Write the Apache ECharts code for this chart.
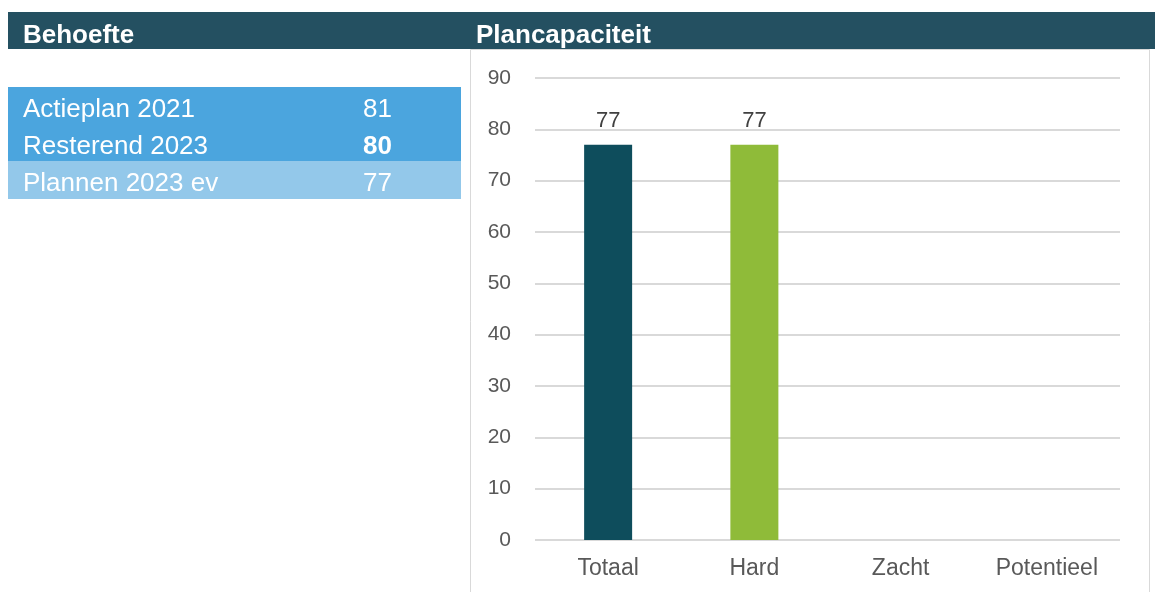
<!DOCTYPE html>
<html>
<head>
<meta charset="utf-8">
<script src="https://cdn.jsdelivr.net/npm/echarts@6/dist/echarts.min.js"></script>
<style>
  html, body { margin: 0; padding: 0; background: #ffffff; }
  #chart { width: 1155px; height: 592px; }
</style>
</head>
<body>
<div id="chart"></div>
<script>
// Plan capacity per category
const categories = ['Totaal', 'Hard', 'Zacht', 'Potentieel'];
const capacityValues = [77, 77, null, null];
const barColors = ['#0E4D5C', '#8FBB39', '#0E4D5C', '#8FBB39'];
const yTicks = [0, 10, 20, 30, 40, 50, 60, 70, 80, 90];

// Demand table (left panel)
const demandLabels = ['Actieplan 2021', 'Resterend 2023', 'Plannen 2023 ev'];
const demandValues = [81, 80, 77];
const demandBold = [false, true, false];
const demandFill = ['#4BA5DE', '#4BA5DE', '#93C8EA'];

const FONT = '"Liberation Sans", Arial, sans-serif';

const chart = echarts.init(document.getElementById('chart'), null, { renderer: 'canvas' });

const graphics = [
  // header band
  { type: 'rect', z: 0, shape: { x: 8, y: 12, width: 1147, height: 37 }, style: { fill: '#245061' } },
  { type: 'text', z: 2, style: { x: 23, y: 36, text: 'Behoefte', fill: '#ffffff', font: 'bold 26px ' + FONT, textVerticalAlign: 'middle' } },
  { type: 'text', z: 2, style: { x: 476, y: 36, text: 'Plancapaciteit', fill: '#ffffff', font: 'bold 26px ' + FONT, textVerticalAlign: 'middle' } },
  // chart frame
  { type: 'rect', z: 0, shape: { x: 470.5, y: 49.5, width: 679, height: 560 }, style: { fill: 'none', stroke: '#D9D9D9', lineWidth: 1 } }
];

demandLabels.forEach((label, i) => {
  const top = 87 + i * 37;
  graphics.push({ type: 'rect', z: 0, shape: { x: 8, y: top, width: 453, height: 38 }, style: { fill: demandFill[i] } });
  graphics.push({ type: 'text', z: 2, style: { x: 23, y: top + 23, text: label, fill: '#ffffff', font: '26px ' + FONT, textVerticalAlign: 'middle' } });
  graphics.push({ type: 'text', z: 2, style: { x: 363, y: top + 23, text: String(demandValues[i]), fill: '#ffffff', font: (demandBold[i] ? 'bold ' : '') + '26px ' + FONT, textVerticalAlign: 'middle' } });
});

chart.setOption({
  animation: false,
  backgroundColor: '#ffffff',
  grid: { left: 535, right: 35, top: 78, bottom: 52, containLabel: false },
  xAxis: {
    type: 'category',
    data: categories,
    axisLine: { show: false },
    axisTick: { show: false },
    axisLabel: { color: '#595959', fontFamily: FONT, fontSize: 23, margin: 17 }
  },
  yAxis: {
    type: 'value',
    min: yTicks[0],
    max: yTicks[yTicks.length - 1],
    interval: yTicks[1] - yTicks[0],
    axisLine: { show: false },
    axisTick: { show: false },
    axisLabel: { color: '#595959', fontFamily: FONT, fontSize: 21, margin: 24 },
    splitLine: { lineStyle: { color: '#D9D9D9', width: 2 } }
  },
  series: [{
    type: 'bar',
    data: capacityValues.map((v, i) => ({ value: v, itemStyle: { color: barColors[i] } })),
    barWidth: 48,
    label: {
      show: true,
      position: 'top',
      distance: 13,
      color: '#404040',
      fontFamily: FONT,
      fontSize: 22,
      formatter: p => (p.value == null ? '' : p.value)
    }
  }],
  graphic: graphics
});
</script>
</body>
</html>
